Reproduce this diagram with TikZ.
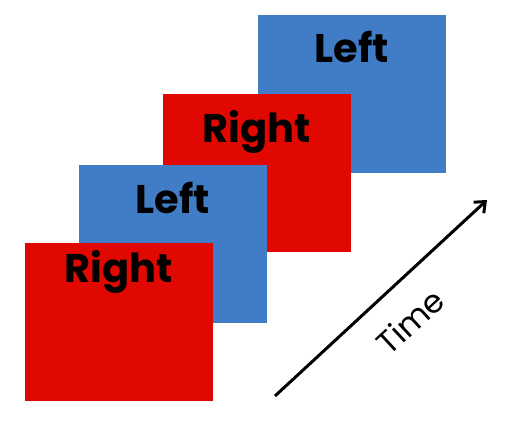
\documentclass[tikz,border=0pt]{standalone}
\usepackage{fontspec}
\setmainfont{Poppins}
\usetikzlibrary{arrows.meta,positioning}

\definecolor{sideblue}{HTML}{417DC6}
\definecolor{sidered}{HTML}{E00800}

\begin{document}
\begin{tikzpicture}[
    x=1pt, y=-1pt,
    panel/.style={rectangle, minimum width=188pt, minimum height=158pt, inner sep=0pt},
    leftpanel/.style={panel, fill=sideblue},
    rightpanel/.style={panel, fill=sidered},
    word/.style={font=\fontsize{40}{48}\selectfont\bfseries, anchor=base, inner sep=0pt},
    timearrow/.style={-{Straight Barb[length=9pt, width=15pt, line width=3pt]}, line width=3pt}
]
    \useasboundingbox (0,0) rectangle (524,441);

    % panels, back to front
    \node[leftpanel] (leftback) at (351.5,94) {};
    \node[word] (leftbacktxt) at ([yshift=-48pt]leftback.north) {Left};

    \node[rightpanel] (rightmid) at (257,173) {};
    \node[word] (rightmidtxt) at ([yshift=-49pt]rightmid.north) {Right};

    \node[leftpanel] (leftmid) at (173,244) {};
    \node[word] (leftmidtxt) at ([yshift=-49pt]leftmid.north) {Left};

    \node[rightpanel] (rightfront) at (119,322) {};
    \node[word] (rightfronttxt) at ([yshift=-40pt]rightfront.north) {Right};

    % time axis
    \coordinate (tstart) at (275,396);
    \coordinate (tend) at (487,200);
    \draw[timearrow] (tstart) -- node[pos=0.52, sloped, anchor=center, yshift=-37pt, inner sep=0pt, font=\fontsize{32}{38}\selectfont] (timetxt) {Time} (tend);
\end{tikzpicture}
\end{document}
